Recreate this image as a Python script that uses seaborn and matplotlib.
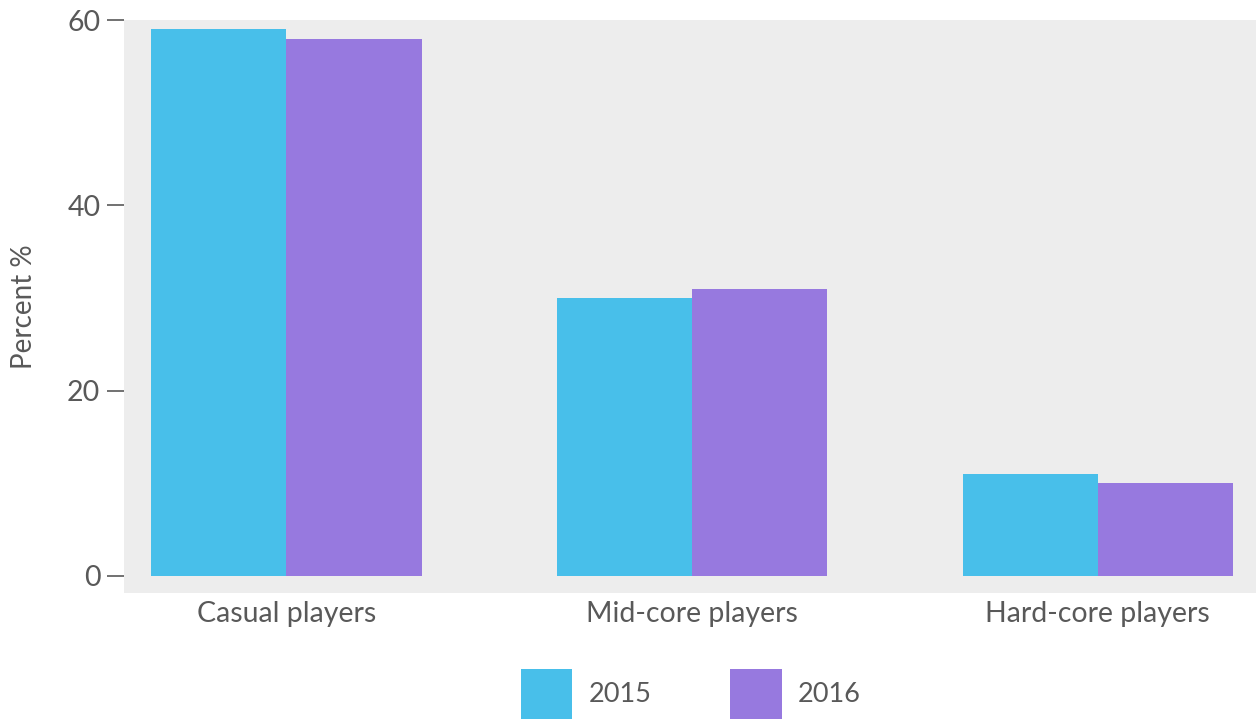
import matplotlib
matplotlib.use("Agg")
import matplotlib.pyplot as plt
import seaborn as sns
import pandas as pd

categories = ["Casual players", "Mid-core players", "Hard-core players"]
years = ["2015", "2016"]
values_2015 = [59, 30, 11]
values_2016 = [58, 31, 10]
colors = ["#48BFEA", "#9779DF"]

df = pd.DataFrame({
    "category": categories * 2,
    "year": [years[0]] * 3 + [years[1]] * 3,
    "percent": values_2015 + values_2016,
})

sns.set_theme(style="white")
text_color = "#595959"
plt.rcParams["font.family"] = ["Lato", "DejaVu Sans"]
plt.rcParams["text.color"] = text_color
plt.rcParams["axes.labelcolor"] = text_color
plt.rcParams["xtick.color"] = text_color
plt.rcParams["ytick.color"] = text_color

fig = plt.figure(figsize=(12.56, 7.2), dpi=100)
ax = fig.add_axes([0.0987, 0.177, 0.9013, 0.7952])
ax.set_facecolor("#EDEDED")

sns.barplot(data=df, x="category", y="percent", hue="year", order=categories,
            hue_order=years, palette=colors, saturation=1, width=2 / 3,
            linewidth=0, ax=ax, legend=False)

ax.set_xlim(-0.4, 2.39)
ax.set_ylim(-1.8, 60)
ax.set_yticks([0, 20, 40, 60])
ax.set_xlabel("")
ax.set_ylabel("Percent %", fontsize=20, labelpad=22)
for s in ax.spines.values():
    s.set_visible(False)
ax.tick_params(axis="y", left=True, length=12, width=1.3, color="#666666",
               labelsize=20.5, pad=5)
ax.tick_params(axis="x", bottom=False, length=0, labelsize=20.5, pad=6)

handles = [plt.Rectangle((0, 0), 1, 1, facecolor=c, edgecolor="none") for c in colors]
fig.legend(handles, years, loc="lower center", bbox_to_anchor=(0.550, -0.033), ncol=2,
           frameon=False, fontsize=19.5, handlelength=1.9, handleheight=2.5,
           handletextpad=0.6, columnspacing=2.9)

fig.savefig("out.png", dpi=100)
